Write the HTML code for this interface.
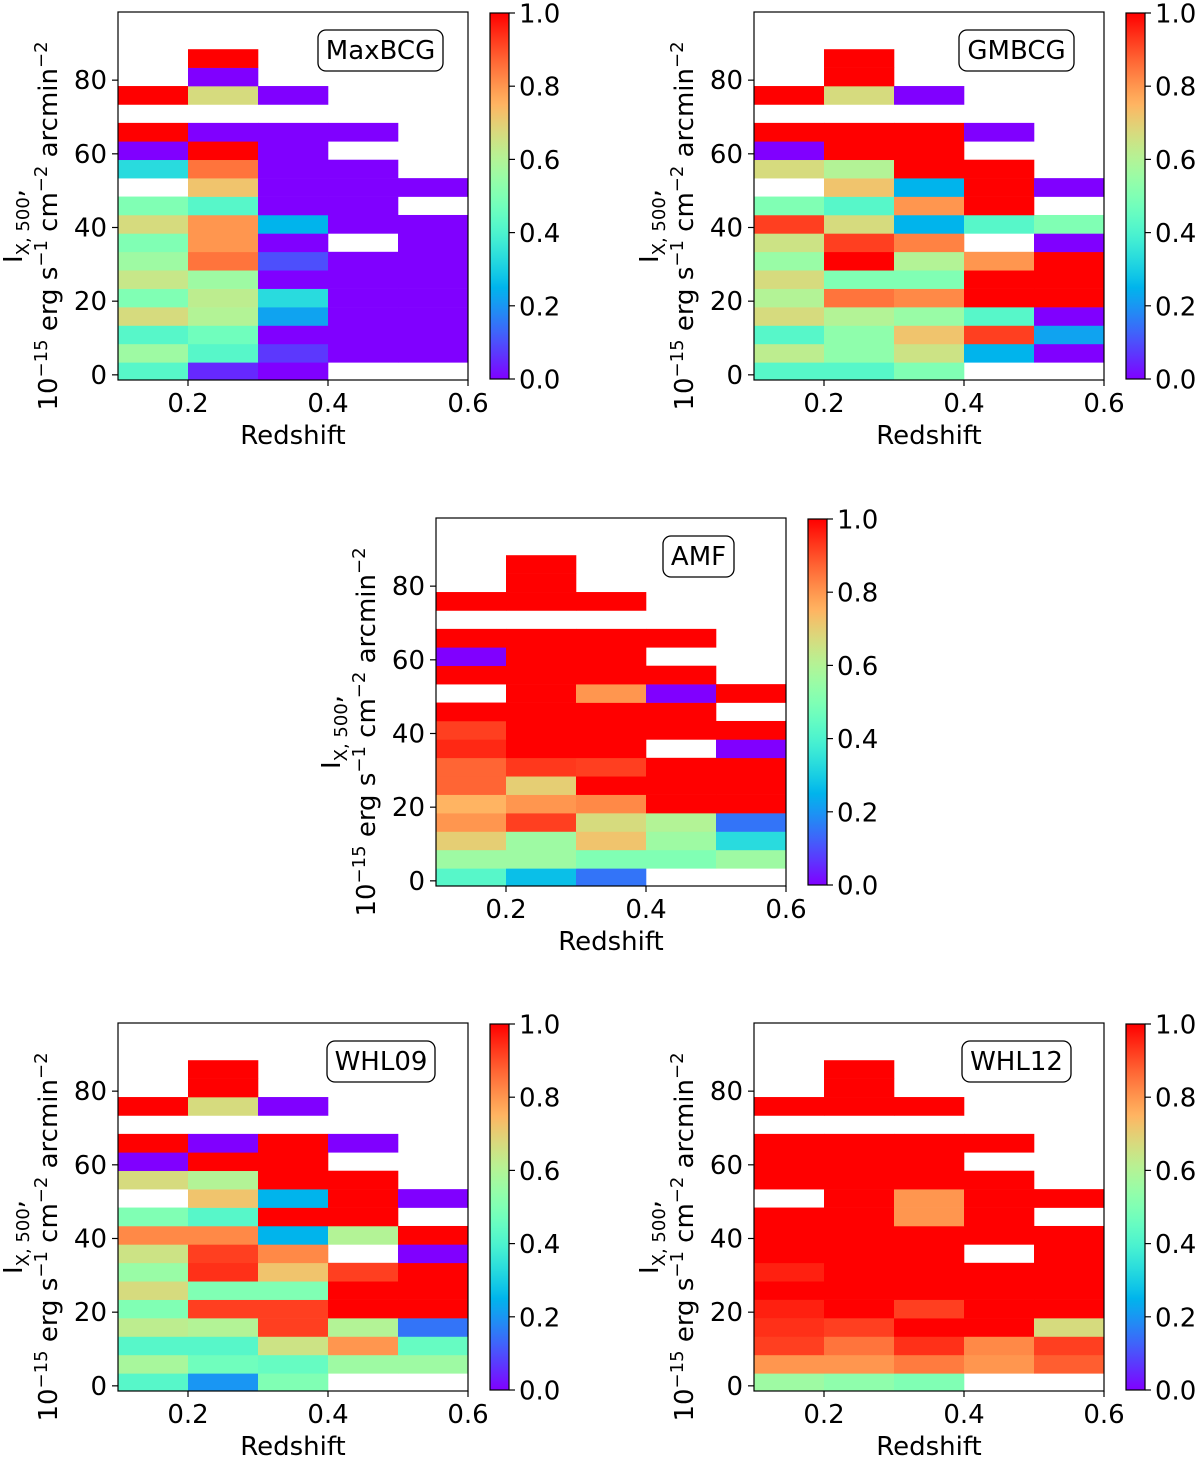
<!DOCTYPE html>
<html><head><meta charset="utf-8"><style>
html,body{margin:0;padding:0;background:#fff;}
svg{display:block;font-family:"DejaVu Sans","Liberation Sans",sans-serif;}
</style></head><body>
<svg id="fig" width="1200" height="1458" viewBox="0 0 1200 1458" xmlns="http://www.w3.org/2000/svg"></svg>
<script>
// Bin definitions
const xEdges = [0.1, 0.2, 0.3, 0.4, 0.5, 0.6];
const yBinStart = -1.6;
const yBinWidth = 5;
const xTicks = [0.2, 0.4, 0.6];
const xTickLabels = ['0.2', '0.4', '0.6'];
const yTicks = [0, 20, 40, 60, 80];
const cbarTicks = [0, 0.2, 0.4, 0.6, 0.8, 1.0];
const cbarTickLabels = ['0.0', '0.2', '0.4', '0.6', '0.8', '1.0'];
const N = null;
// Rows from bottom (row 0) to top (row 17), 5 redshift columns each
const maxbcgValues = [
 [0.42,0.05,0,N,N],[0.56,0.42,0.07,0,0],[0.42,0.47,0,0,0],[0.67,0.6,0.22,0,0],
 [0.5,0.62,0.33,0,0],[0.64,0.56,0,0,0],[0.56,0.85,0.1,0,0],[0.5,0.8,0,N,0],
 [0.67,0.8,0.25,0,0],[0.5,0.42,0,0,N],[N,0.72,0,0,0],[0.33,0.85,0,0,N],
 [0,1,0,N,N],[1,0,0,0,N],[N,N,N,N,N],[1,0.67,0,N,N],[N,0,N,N,N],[N,1,N,N,N]];
const gmbcgValues = [
 [0.42,0.42,0.5,N,N],[0.62,0.53,0.65,0.25,0],[0.42,0.53,0.72,0.92,0.22],[0.67,0.6,0.55,0.42,0],
 [0.6,0.85,0.82,1,1],[0.67,0.5,0.5,1,1],[0.55,1,0.6,0.8,1],[0.65,0.92,0.83,N,0],
 [0.92,0.67,0.25,0.42,0.5],[0.5,0.42,0.8,1,N],[N,0.72,0.25,1,0],[0.67,0.6,1,1,N],
 [0,1,1,N,N],[1,1,1,0,N],[N,N,N,N,N],[1,0.67,0,N,N],[N,1,N,N,N],[N,1,N,N,N]];
const amfValues = [
 [0.42,0.27,0.15,N,N],[0.56,0.56,0.5,0.5,0.56],[0.7,0.56,0.72,0.56,0.33],[0.8,0.92,0.67,0.6,0.15],
 [0.75,0.8,0.82,1,1],[0.87,0.7,1,1,1],[0.87,0.93,0.92,1,1],[0.95,1,1,N,0],
 [0.92,1,1,1,1],[1,1,1,1,N],[N,1,0.8,0,1],[1,1,1,1,N],
 [0,1,1,N,N],[1,1,1,1,N],[N,N,N,N,N],[1,1,1,N,N],[N,1,N,N,N],[N,1,N,N,N]];
const whl09Values = [
 [0.42,0.2,0.5,N,N],[0.58,0.47,0.45,0.56,0.56],[0.42,0.42,0.65,0.8,0.45],[0.62,0.6,0.92,0.6,0.15],
 [0.5,0.92,0.92,1,1],[0.67,0.5,0.5,1,1],[0.55,0.94,0.72,0.92,1],[0.65,0.92,0.82,N,0],
 [0.82,0.82,0.25,0.6,1],[0.5,0.42,1,1,N],[N,0.72,0.25,1,0],[0.67,0.6,1,1,N],
 [0,1,1,N,N],[1,0,1,0,N],[N,N,N,N,N],[1,0.67,0,N,N],[N,1,N,N,N],[N,1,N,N,N]];
const whl12Values = [
 [0.56,0.53,0.5,N,N],[0.8,0.8,0.84,0.8,0.88],[0.92,0.85,0.94,0.82,0.92],[0.94,0.92,1,1,0.67],
 [0.96,1,0.92,1,1],[1,1,1,1,1],[0.96,1,1,1,1],[1,1,1,N,1],
 [1,1,1,1,1],[1,1,0.8,1,N],[N,1,0.8,1,1],[1,1,1,1,N],
 [1,1,1,N,N],[1,1,1,1,N],[N,N,N,N,N],[1,1,1,N,N],[N,1,N,N,N],[N,1,N,N,N]];
const panelNames = ['MaxBCG','GMBCG','AMF','WHL09','WHL12'];

const NS='http://www.w3.org/2000/svg';
const svg=document.getElementById('fig');
const FS=26, FSS=18;
function mk(tag,attrs,parent){const e=document.createElementNS(NS,tag);for(const k in attrs)e.setAttribute(k,attrs[k]);(parent||svg).appendChild(e);return e;}
function rainbow(v){v=Math.max(0,Math.min(1,v));
 const r=Math.min(1,Math.abs(2*v-0.5)),g=Math.sin(Math.PI*v),b=Math.cos(Math.PI*v/2);
 return 'rgb('+Math.round(r*255)+','+Math.round(g*255)+','+Math.round(b*255)+')';}

const defs=mk('defs',{});
const grad=mk('linearGradient',{id:'rb',x1:'0',y1:'1',x2:'0',y2:'0'},defs);
for(let i=0;i<=40;i++){mk('stop',{offset:(i/40),'stop-color':rainbow(i/40)},grad);}

const W=350,H=368,YMIN=-1.4,YMAX=98.5;
function drawPanel(name,vals,L,T,boxL,boxR){
 const g=mk('g',{});
 
 
 const xs=v=>L+(v-xEdges[0])/(xEdges[xEdges.length-1]-xEdges[0])*W;
 const ys=v=>T+H-(v-YMIN)/(YMAX-YMIN)*H;
 vals.forEach((row,k)=>{
  let lo=Math.max(YMIN,yBinStart+yBinWidth*k),hi=Math.min(YMAX,yBinStart+yBinWidth*(k+1));
  row.forEach((v,c)=>{
   if(v===null)return;
   const x0=xs(xEdges[c]),x1=xs(xEdges[c+1]);
   const r=mk('rect',{x:x0,y:ys(hi),width:x1-x0+0.3,height:ys(lo)-ys(hi)+0.3,fill:rainbow(v)},g);
   
   
  });
 });
 const fr=mk('rect',{x:L,y:T,width:W,height:H,fill:'none',stroke:'#000','stroke-width':1.2},g);
 
 
 xTicks.forEach((t,i)=>{const x=xs(t);mk('line',{x1:x,x2:x,y1:T+H,y2:T+H+6,stroke:'#000','stroke-width':1.2},g);
  const tx=mk('text',{x:x,y:T+H+32,'font-size':FS,'text-anchor':'middle'},g);tx.textContent=xTickLabels[i];
  
  });
 yTicks.forEach(t=>{const y=ys(t);mk('line',{x1:L-6,x2:L,y1:y,y2:y,stroke:'#000','stroke-width':1.2},g);
  const tx=mk('text',{x:L-11,y:y+9,'font-size':FS,'text-anchor':'end'},g);tx.textContent=String(t);
  
  });
 const xl=mk('text',{x:L+W/2,y:T+H+64,'font-size':FS,'text-anchor':'middle'},g);xl.textContent='Redshift';
 
 
 const cy=T+214;
 const yl=mk('g',{},g);
 
 
 const t1=mk('text',{transform:'translate('+(L-96)+','+cy+') rotate(-90)','font-size':FS,'text-anchor':'middle'},yl);
 t1.innerHTML='I<tspan font-size="'+FSS+'" dy="7">X, 500</tspan><tspan dy="-7">,</tspan>';
 const t2=mk('text',{transform:'translate('+(L-61)+','+cy+') rotate(-90)','font-size':FS,'text-anchor':'middle'},yl);
 t2.innerHTML='10<tspan font-size="'+FSS+'" dy="-10">−15</tspan><tspan dy="10"> erg s</tspan><tspan font-size="'+FSS+'" dy="-10">−1</tspan><tspan dy="10"> cm</tspan><tspan font-size="'+FSS+'" dy="-10">−2</tspan><tspan dy="10"> arcmin</tspan><tspan font-size="'+FSS+'" dy="-10">−2</tspan>';
 const lb=mk('rect',{x:boxL,y:T+18,width:boxR-boxL,height:41,rx:8,fill:'#fff',stroke:'#000','stroke-width':1.3},g);
 
 
 const lt=mk('text',{x:(boxL+boxR)/2,y:T+47,'font-size':FS,'text-anchor':'middle'},g);lt.textContent=name;
 
 
 const cx=L+372,cw=19,ct=T+1,cb=T+H-1;
 const cr=mk('rect',{x:cx,y:ct,width:cw,height:cb-ct,fill:'url(#rb)',stroke:'#000','stroke-width':1.2},g);
 
 
 cbarTicks.forEach((t,i)=>{const y=cb-t*(cb-ct);mk('line',{x1:cx+cw,x2:cx+cw+6,y1:y,y2:y,stroke:'#000','stroke-width':1.2},g);
  const tx=mk('text',{x:cx+cw+10,y:y+9.5,'font-size':FS},g);tx.textContent=cbarTickLabels[i];
  
  });
}
drawPanel(panelNames[0],maxbcgValues,118,12,318,443);
drawPanel(panelNames[1],gmbcgValues,754,12,959,1074);
drawPanel(panelNames[2],amfValues,436,518,663,734);
drawPanel(panelNames[3],whl09Values,118,1023,327,435);
drawPanel(panelNames[4],whl12Values,754,1023,962,1071);
</script>
</body></html>
